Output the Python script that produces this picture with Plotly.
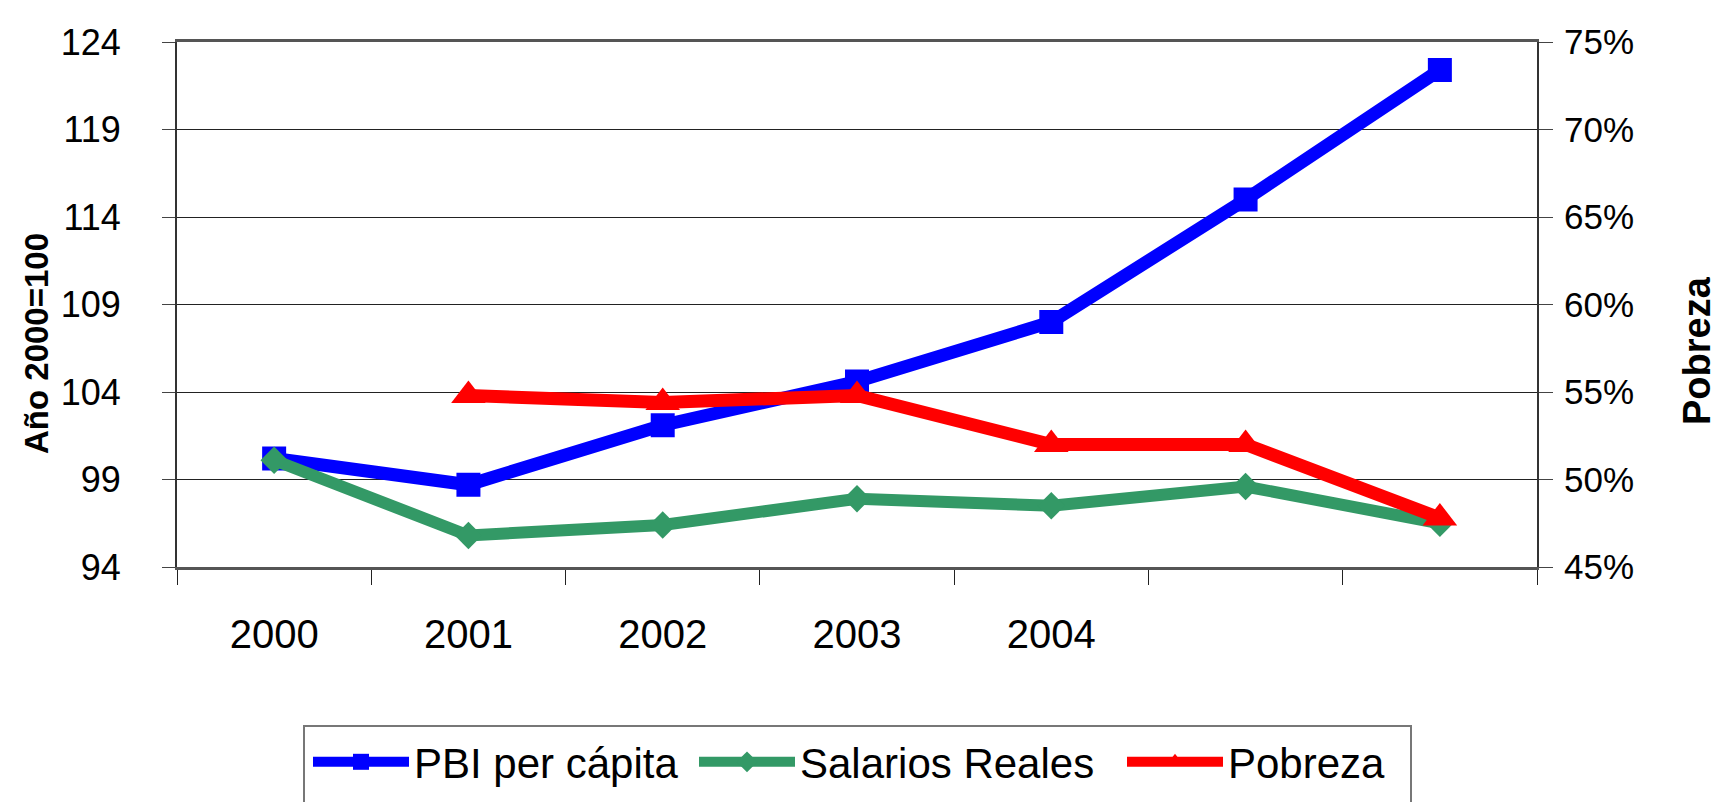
import plotly.graph_objects as go

# ---- data ----
years = ["2000", "2001", "2002", "2003", "2004", "2005", "2006"]
x_tick_labels = ["2000", "2001", "2002", "2003", "2004", "", ""]
pbi_per_capita = [100.2, 98.7, 102.1, 104.6, 108.0, 115.0, 122.4]
salarios_reales = [100.1, 95.8, 96.4, 97.9, 97.5, 98.6, 96.5]
pobreza = [None, 54.8, 54.4, 54.8, 52.0, 52.0, 47.8]

left_ticks = [94, 99, 104, 109, 114, 119, 124]
right_ticks = [45, 50, 55, 60, 65, 70, 75]
right_tick_labels = ["45%", "50%", "55%", "60%", "65%", "70%", "75%"]

FONT = "Liberation Sans, Arial, sans-serif"

# plot-area geometry (pixels)
L, R, T, B = 169, 1529, 34, 559
PW, PH = R - L, B - T


def px(x):
    return (x - L) / PW


def py(y):
    return (B - y) / PH


fig = go.Figure()
fig.add_trace(go.Scatter(
    x=years, y=pbi_per_capita, name="PBI per cápita", mode="lines+markers",
    line=dict(color="#0000FF", width=13),
    marker=dict(symbol="square", size=24, color="#0000FF"),
    legend="legend",
))
fig.add_trace(go.Scatter(
    x=years, y=salarios_reales, name="Salarios Reales", mode="lines+markers",
    line=dict(color="#339966", width=12),
    marker=dict(symbol="diamond", size=21, color="#339966"),
    legend="legend2",
))
fig.add_trace(go.Scatter(
    x=years, y=pobreza, name="Pobreza", mode="lines+markers", yaxis="y2",
    line=dict(color="#FF0000", width=13),
    marker=dict(symbol="triangle-up", size=30, color="#FF0000"),
    legend="legend3",
))

legend_common = dict(
    orientation="h", yanchor="top", y=py(720), xanchor="left",
    borderwidth=0, bgcolor="rgba(0,0,0,0)",
    font=dict(size=42, family=FONT), itemwidth=96,
)

fig.update_layout(
    width=1719, height=802,
    margin=dict(l=L, r=1719 - R, t=T, b=802 - B),
    paper_bgcolor="white", plot_bgcolor="white",
    font=dict(family=FONT, color="black"),
    showlegend=True,
    xaxis=dict(
        type="category", tickvals=years, ticktext=x_tick_labels,
        tickson="boundaries", ticks="outside", ticklen=15, tickcolor="#222", tickwidth=1,
        showgrid=False, showline=True, linecolor="#555", linewidth=3, mirror=True,
        tickfont=dict(size=40, family=FONT), ticklabelstandoff=30,
        range=[-0.5, 6.5],
    ),
    yaxis=dict(
        range=[94, 124], tickvals=left_ticks, ticks="outside", ticklen=13,
        tickcolor="#444", showgrid=True, gridcolor="#222", gridwidth=1,
        showline=True, linecolor="#333", linewidth=2, zeroline=False,
        tickfont=dict(size=36, family=FONT), ticklabelstandoff=34,
    ),
    yaxis2=dict(
        range=[45, 75], tickvals=right_ticks, ticktext=right_tick_labels,
        overlaying="y", side="right",
        ticks="outside", ticklen=14, tickcolor="#444", showgrid=False,
        showline=True, linecolor="#333", linewidth=2, zeroline=False,
        tickfont=dict(size=35, family=FONT), ticklabelstandoff=4,
    ),
    legend=dict(legend_common, x=px(300)),
    legend2=dict(legend_common, x=px(686)),
    legend3=dict(legend_common, x=px(1114)),
    shapes=[
        dict(type="rect", xref="paper", yref="paper",
             x0=px(296), x1=px(1403), y0=py(830), y1=py(718),
             line=dict(color="#777", width=2), fillcolor="rgba(0,0,0,0)", layer="below"),
    ],
    annotations=[
        dict(text="<b>Año 2000=100</b>", textangle=-90, xref="paper", yref="paper",
             x=px(28), y=py(336), xanchor="center", yanchor="middle",
             showarrow=False, font=dict(size=33, family=FONT)),
        dict(text="<b>Pobreza</b>", textangle=-90, xref="paper", yref="paper",
             x=px(1689), y=py(343), xanchor="center", yanchor="middle",
             showarrow=False, font=dict(size=38, family=FONT)),
    ],
)

fig.write_html("out.html")
